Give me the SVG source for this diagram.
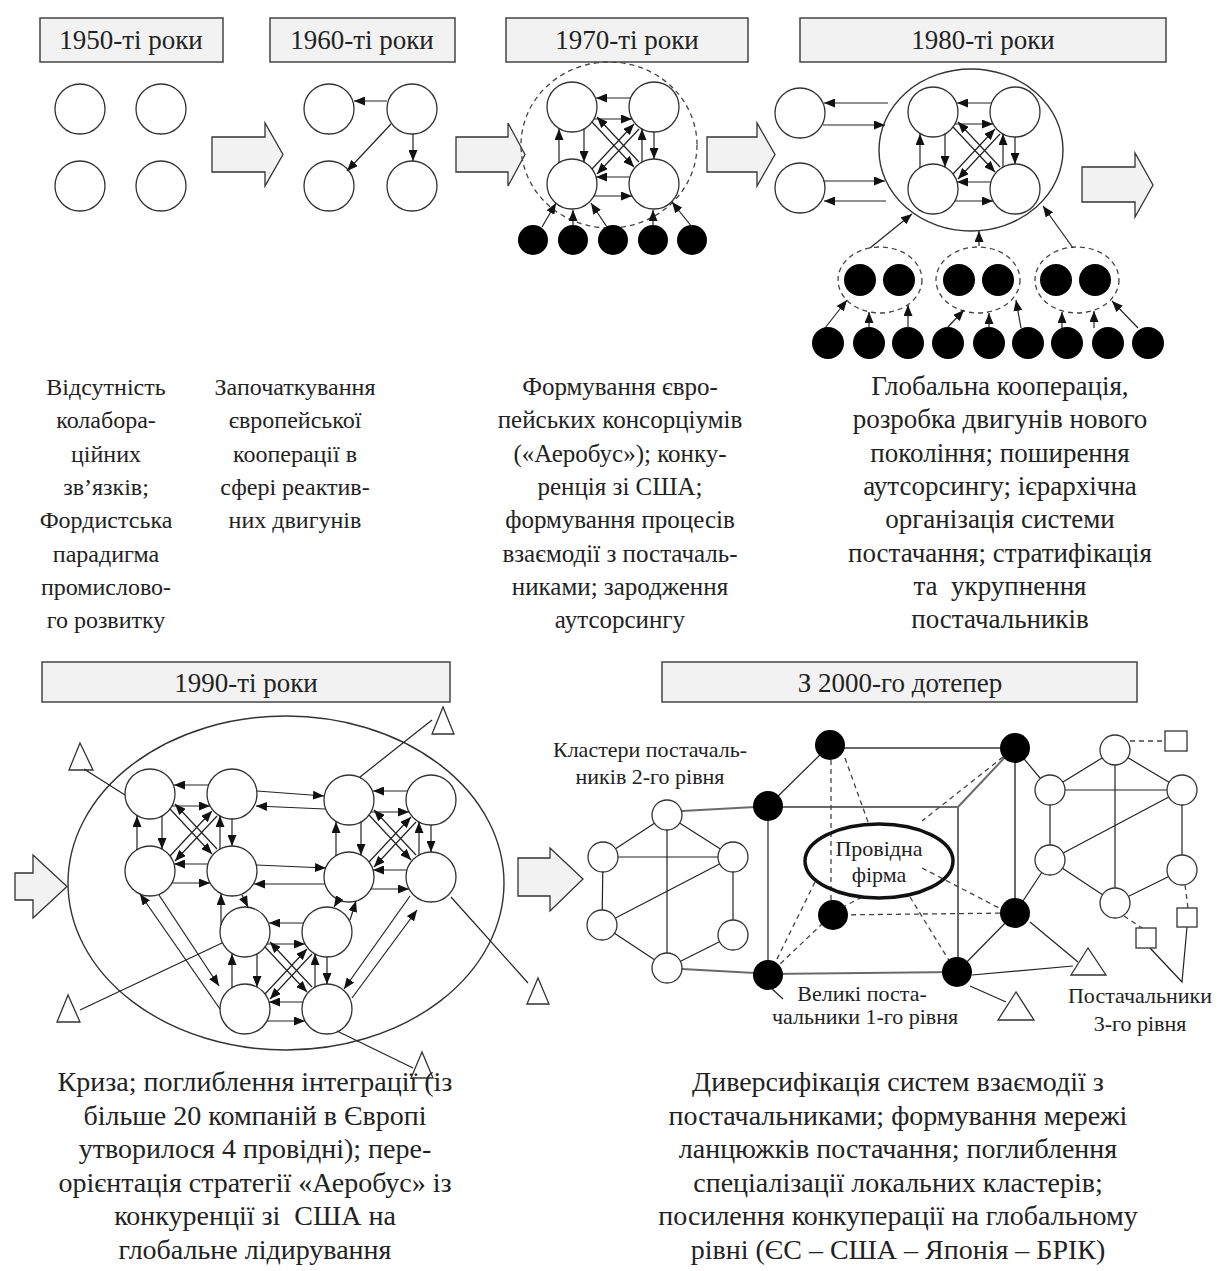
<svg xmlns="http://www.w3.org/2000/svg" xmlns:xlink="http://www.w3.org/1999/xlink" width="1221" height="1271" viewBox="0 0 1221 1271">
<style>
.n{fill:#fff;stroke:#333;stroke-width:1.3}
.b{fill:#000}
.ln{stroke:#222;stroke-width:1.2;fill:none}
.ar{marker-end:url(#ah)}
.ds{stroke:#444;stroke-dasharray:5 4;fill:none;stroke-width:1.3}
.gr{stroke:#6a6a6a;stroke-width:2;fill:none}
.box{fill:#f2f2f2;stroke:#444;stroke-width:1.5}
.blk{fill:#f2f2f2;stroke:#333;stroke-width:1.3}
.tri{fill:#fff;stroke:#333;stroke-width:1.3}
.t{font-family:"Liberation Serif","Times New Roman",serif;fill:#222;text-anchor:middle}
.tt{font-size:27px}
.bd{font-size:24px}
.bd2{font-size:25px}
.bd4{font-size:27px}
.bd3{font-size:28px}
.lb{font-size:22px}
</style>
<defs>
<marker id="ah" markerUnits="userSpaceOnUse" markerWidth="12" markerHeight="9" refX="11" refY="4.5" orient="auto"><path d="M0,0 L11,4.5 L0,9 z" fill="#111"/></marker>
<g id="mesh">
<circle class="n" cx="0" cy="0" r="25"/><circle class="n" cx="82" cy="0" r="25"/><circle class="n" cx="0" cy="77" r="25"/><circle class="n" cx="82" cy="77" r="25"/>
<path class="ln ar" d="M59,-9 L24,-9"/>
<path class="ln ar" d="M22,12 L60,12"/>
<path class="ln ar" d="M82,25 L82,52"/>
<path class="ln ar" d="M-13,56 L-13,22"/>
<path class="ln ar" d="M58,70 L24,70"/>
<path class="ln ar" d="M22,89 L60,89"/>
<path class="ln ar" d="M12,22 L12,55"/>
<path class="ln ar" d="M70,55 L70,22"/>
<path class="ln ar" d="M20,15 L62,60"/>
<path class="ln ar" d="M67,55 L25,10"/>
<path class="ln ar" d="M20,62 L62,17"/>
<path class="ln ar" d="M67,22 L25,67"/>
</g>
</defs>
<rect width="1221" height="1271" fill="#fff"/>

<!-- title boxes -->
<g id="title-1950"><rect class="box" x="40" y="18" width="183" height="44"/><text class="t tt" x="131" y="49">1950-ті роки</text></g>
<g id="title-1960"><rect class="box" x="270" y="18" width="185" height="44"/><text class="t tt" x="362" y="49">1960-ті роки</text></g>
<g id="title-1970"><rect class="box" x="506" y="18" width="242" height="44"/><text class="t tt" x="627" y="49">1970-ті роки</text></g>
<g id="title-1980"><rect class="box" x="800" y="18" width="366" height="44"/><text class="t tt" x="983" y="49">1980-ті роки</text></g>
<g id="title-1990"><rect class="box" x="42" y="662" width="408" height="40"/><text class="t tt" x="246" y="692">1990-ті роки</text></g>
<g id="title-2000"><rect class="box" x="662" y="662" width="475" height="40"/><text class="t tt" x="900" y="692">З 2000-го дотепер</text></g>

<!-- block arrows -->
<g id="block-arrows">
<polygon class="blk" points="212,137 265,137 265,123 283,154.5 265,186 265,172 212,172"/>
<polygon class="blk" points="456,137 508,137 508,123 525,154.5 508,186 508,172 456,172"/>
<polygon class="blk" points="707,137 757,137 757,123 775,154.5 757,186 757,172 707,172"/>
<polygon class="blk" points="1082,167 1135,167 1135,153 1153,185 1135,217 1135,202 1082,202"/>
<polygon class="blk" points="15,873 33,873 33,855 67,886.5 33,918 33,900 15,900"/>
<polygon class="blk" points="518,858 550,858 550,848 583,879 550,911 550,896 518,896"/>
</g>

<!-- 1950s -->
<g id="n1950">
<circle class="n" cx="80" cy="109" r="25"/><circle class="n" cx="161" cy="109" r="25"/>
<circle class="n" cx="80" cy="186" r="25"/><circle class="n" cx="161" cy="186" r="25"/>
</g>

<!-- 1960s -->
<g id="n1960">
<circle class="n" cx="329" cy="109" r="25"/><circle class="n" cx="412" cy="109" r="25"/>
<circle class="n" cx="329" cy="186" r="25"/><circle class="n" cx="412" cy="186" r="25"/>
</g>
<g id="c1960">
<path class="ln ar" d="M387,101 L354,101"/>
<path class="ln ar" d="M391,124 L347,171"/>
<path class="ln ar" d="M413,134 L413,161"/>
</g>

<!-- 1970s -->
<g id="n1970">
<ellipse class="ds" cx="609" cy="145" rx="88" ry="83"/>
<use xlink:href="#mesh" href="#mesh" x="572" y="107"/>
<circle class="b" cx="533" cy="240" r="15"/><circle class="b" cx="573" cy="240" r="15"/><circle class="b" cx="613" cy="240" r="15"/><circle class="b" cx="653" cy="240" r="15"/><circle class="b" cx="692" cy="240" r="15"/>
</g>
<g id="c1970">
<path class="ln ar" d="M542,227 L556,203"/>
<path class="ln ar" d="M573,226 L573,210"/>
<path class="ln ar" d="M607,227 L591,203"/>
<path class="ln ar" d="M653,226 L653,210"/>
<path class="ln ar" d="M692,227 L672,202"/>
</g>

<!-- 1980s -->
<g id="n1980">
<ellipse cx="971" cy="150" rx="92" ry="81" fill="none" stroke="#333" stroke-width="1.4"/>
<use xlink:href="#mesh" href="#mesh" x="933" y="112"/>
<circle class="n" cx="800" cy="113" r="25"/><circle class="n" cx="800" cy="188" r="25"/>
<ellipse class="ds" cx="880" cy="280" rx="42" ry="33"/>
<ellipse class="ds" cx="978" cy="280" rx="42" ry="33"/>
<ellipse class="ds" cx="1077" cy="280" rx="42" ry="33"/>
<circle class="b" cx="860" cy="280" r="16"/><circle class="b" cx="899" cy="280" r="16"/>
<circle class="b" cx="959" cy="280" r="16"/><circle class="b" cx="998" cy="280" r="16"/>
<circle class="b" cx="1056" cy="280" r="16"/><circle class="b" cx="1095" cy="280" r="16"/>
<circle class="b" cx="828" cy="343" r="16"/><circle class="b" cx="869" cy="343" r="16"/><circle class="b" cx="908" cy="343" r="16"/>
<circle class="b" cx="948" cy="343" r="16"/><circle class="b" cx="989" cy="343" r="16"/><circle class="b" cx="1028" cy="343" r="16"/>
<circle class="b" cx="1067" cy="343" r="16"/><circle class="b" cx="1108" cy="343" r="16"/><circle class="b" cx="1148" cy="343" r="16"/>
</g>
<g id="c1980">
<path class="ln ar" d="M888,103 L824,103"/>
<path class="ln ar" d="M823,125 L885,125"/>
<path class="ln ar" d="M823,181 L885,181"/>
<path class="ln ar" d="M886,201 L824,201"/>
<path class="ln ar" d="M870,248 L912,214"/>
<path class="ln ar" d="M979,246 L979,231"/>
<path class="ln ar" d="M1073,248 L1043,206"/>
<path class="ln ar" d="M825,328 L847,300"/>
<path class="ln ar" d="M869,328 L869,312"/>
<path class="ln ar" d="M908,328 L908,305"/>
<path class="ln ar" d="M947,328 L964,310"/>
<path class="ln ar" d="M989,328 L989,313"/>
<path class="ln ar" d="M1021,328 L1016,300"/>
<path class="ln ar" d="M1062,328 L1062,312"/>
<path class="ln ar" d="M1094,328 L1094,311"/>
<path class="ln ar" d="M1138,328 L1112,301"/>
</g>

<!-- top descriptions -->
<g id="desc-1950"><text class="t bd" x="106" y="395"><tspan x="106" dy="0">Відсутність</tspan><tspan x="106" dy="33.3">колабора-</tspan><tspan x="106" dy="33.3">ційних</tspan><tspan x="106" dy="33.3">зв’язків;</tspan><tspan x="106" dy="33.3">Фордистська</tspan><tspan x="106" dy="33.3">парадигма</tspan><tspan x="106" dy="33.3">промислово-</tspan><tspan x="106" dy="33.3">го розвитку</tspan></text></g>
<g id="desc-1960"><text class="t bd" x="295" y="395"><tspan x="295" dy="0">Започаткування</tspan><tspan x="295" dy="33.3">європейської</tspan><tspan x="295" dy="33.3">кооперації в</tspan><tspan x="295" dy="33.3">сфері реактив-</tspan><tspan x="295" dy="33.3">них двигунів</tspan></text></g>
<g id="desc-1970"><text class="t bd2" x="620" y="395"><tspan x="620" dy="0">Формування євро-</tspan><tspan x="620" dy="33.3">пейських консорціумів</tspan><tspan x="620" dy="33.3">(«Аеробус»); конку-</tspan><tspan x="620" dy="33.3">ренція зі США;</tspan><tspan x="620" dy="33.3">формування процесів</tspan><tspan x="620" dy="33.3">взаємодії з постачаль-</tspan><tspan x="620" dy="33.3">никами; зародження</tspan><tspan x="620" dy="33.3">аутсорсингу</tspan></text></g>
<g id="desc-1980"><text class="t bd4" x="1000" y="395" style="white-space:pre"><tspan x="1000" dy="0">Глобальна кооперація,</tspan><tspan x="1000" dy="33.3">розробка двигунів нового</tspan><tspan x="1000" dy="33.3">покоління; поширення</tspan><tspan x="1000" dy="33.3">аутсорсингу; ієрархічна</tspan><tspan x="1000" dy="33.3">організація системи</tspan><tspan x="1000" dy="33.3">постачання; стратифікація</tspan><tspan x="1000" dy="33.3">та  укрупнення</tspan><tspan x="1000" dy="33.3">постачальників</tspan></text></g>

<!-- 1990s -->
<g id="n1990">
<ellipse cx="286" cy="883" rx="218" ry="167" fill="none" stroke="#333" stroke-width="1.4"/>
<use xlink:href="#mesh" href="#mesh" x="150" y="794"/>
<use xlink:href="#mesh" href="#mesh" x="349" y="800"/>
<use xlink:href="#mesh" href="#mesh" x="245" y="932"/>
<polygon class="tri" points="80,743 69,770 93,770"/>
<polygon class="tri" points="68,995 57,1022 80,1022"/>
<polygon class="tri" points="443,707 432,734 454,734"/>
<polygon class="tri" points="538,978 527,1004 549,1004"/>
<polygon class="tri" points="422,1052 411,1078 433,1078"/>
</g>
<g id="c1990">
<path class="ln ar" d="M257,791 L324,796"/>
<path class="ln ar" d="M325,809 L256,806"/>
<path class="ln ar" d="M256,865 L326,868"/>
<path class="ln ar" d="M325,884 L254,884"/>
<path class="ln ar" d="M221,925 L221,894"/>
<path class="ln ar" d="M242,895 L248,907"/>
<path class="ln ar" d="M339,899 L334,907"/>
<path class="ln ar" d="M350,920 L356,901"/>
<path class="ln ar" d="M220,1009 L140,894"/>
<path class="ln ar" d="M159,895 L219,986"/>
<path class="ln ar" d="M410,896 L344,989"/>
<path class="ln ar" d="M352,998 L417,910"/>
<path class="ln" d="M84,769 L125,795"/>
<path class="ln" d="M80,1010 L222,943"/>
<path class="ln" d="M432,720 L360,777"/>
<path class="ln" d="M528,983 L451,897"/>
<path class="ln" d="M413,1068 L337,1031"/>
</g>

<!-- 2000s -->
<g id="c2000">
<path class="gr" d="M830,748 L1015,748"/>
<path class="gr" d="M768,807 L958,807 L958,972"/>
<path class="gr" d="M768,974 L957,972"/>
<path class="gr" d="M958,807 L1008,754"/>
<path class="gr" d="M1015,748 L1015,913"/>
<path class="gr" d="M682,811 L755,807"/>
<path class="gr" d="M682,969 L755,973"/>
<path class="ln" d="M830,745 L768,806"/>
<path class="ln" d="M768,806 L768,975"/>
<path class="ln" d="M1015,913 L957,972"/>
<path class="ln" d="M1015,748 L1050,790"/>
<path class="ln" d="M1015,913 L1050,860"/>
<path class="ln" d="M1030,922 L1078,962"/>
<path class="ln" d="M972,975 L1073,966"/>
<path class="ln" d="M970,986 L1006,1002"/>
<path class="ln" d="M770,987 L783,999"/>
<path class="ds" d="M831,760 L831,915"/>
<path class="ds" d="M833,915 L1015,913"/>
<path class="ds" d="M823,923 L778,966"/>
<path class="ds" d="M845,758 L868,822"/>
<path class="ds" d="M1003,757 L922,821"/>
<path class="ds" d="M815,882 L775,963"/>
<path class="ds" d="M862,897 L845,906"/>
<path class="ds" d="M910,897 L950,962"/>
<path class="ds" d="M922,868 L1001,909"/>
<path class="ln" d="M667,815 L603,857 M667,815 L733,857 M667,815 L667,968 M603,857 L733,857 M603,857 L602,925 M733,857 L602,925 M733,857 L733,935 M602,925 L667,968 M733,935 L667,968"/>
<path class="ln" d="M1115,750 L1050,790 M1115,750 L1182,790 M1115,750 L1115,903 M1050,790 L1182,790 M1050,790 L1050,860 M1050,860 L1182,790 M1182,790 L1182,870 M1050,860 L1115,903 M1182,870 L1115,903"/>
<path class="ds" d="M1130,741 L1165,741"/>
<path class="ds" d="M1185,885 L1188,908"/>
<path class="ds" d="M1124,916 L1142,928"/>
<path class="ln" d="M1150,948 L1182,982 L1187,927"/>
</g>
<g id="n2000">
<g id="lead-firm"><ellipse cx="879" cy="861" rx="74" ry="37" fill="none" stroke="#111" stroke-width="3.5"/><text class="t lb" x="879" y="856">Провідна</text><text class="t lb" x="879" y="882">фірма</text></g>
<g id="tier1">
<circle class="b" cx="830" cy="745" r="15"/><circle class="b" cx="1015" cy="748" r="15"/>
<circle class="b" cx="768" cy="806" r="15"/><circle class="b" cx="833" cy="915" r="15"/>
<circle class="b" cx="1015" cy="913" r="15"/><circle class="b" cx="768" cy="975" r="15"/>
<circle class="b" cx="957" cy="972" r="15"/>
</g>
<g id="cluster-left">
<circle class="n" cx="667" cy="815" r="15"/><circle class="n" cx="603" cy="857" r="15"/><circle class="n" cx="733" cy="857" r="15"/>
<circle class="n" cx="602" cy="925" r="15"/><circle class="n" cx="733" cy="935" r="15"/><circle class="n" cx="667" cy="968" r="15"/>
</g>
<g id="cluster-right">
<circle class="n" cx="1115" cy="750" r="15"/><circle class="n" cx="1050" cy="790" r="15"/><circle class="n" cx="1182" cy="790" r="15"/>
<circle class="n" cx="1050" cy="860" r="15"/><circle class="n" cx="1182" cy="870" r="15"/><circle class="n" cx="1115" cy="903" r="15"/>
</g>
<g id="tier3">
<rect class="tri" x="1165" y="731" width="22" height="20"/>
<rect class="tri" x="1177" y="908" width="20" height="19"/>
<rect class="tri" x="1136" y="928" width="20" height="20"/>
</g>
<g id="outer2000">
<polygon class="tri" points="1088,948 1071,975 1106,975"/>
<polygon class="tri" points="1016,992 998,1020 1034,1020"/>
</g>
<text class="t lb" x="650" y="757">Кластери постачаль-</text>
<text class="t lb" x="650" y="784">ників 2-го рівня</text>
<text class="t lb" x="862" y="1001">Великі поста-</text>
<text class="t lb" x="865" y="1024">чальники 1-го рівня</text>
<text class="t lb" x="1140" y="1003">Постачальники</text>
<text class="t lb" x="1140" y="1031">3-го рівня</text>
</g>

<!-- bottom descriptions -->
<g id="desc-1990"><text class="t bd3" x="255" y="1091" style="white-space:pre"><tspan x="255" dy="0">Криза; поглиблення інтеграції (із</tspan><tspan x="255" dy="33.6">більше 20 компаній в Європі</tspan><tspan x="255" dy="33.6">утворилося 4 провідні); пере-</tspan><tspan x="255" dy="33.6">орієнтація стратегії «Аеробус» із</tspan><tspan x="255" dy="33.6">конкуренції зі  США на</tspan><tspan x="255" dy="33.6">глобальне лідирування</tspan></text></g>
<g id="desc-2000"><text class="t bd3" x="898" y="1091"><tspan x="898" dy="0">Диверсифікація систем взаємодії з</tspan><tspan x="898" dy="33.6">постачальниками; формування мережі</tspan><tspan x="898" dy="33.6">ланцюжків постачання; поглиблення</tspan><tspan x="898" dy="33.6">спеціалізації локальних кластерів;</tspan><tspan x="898" dy="33.6">посилення конкуперації на глобальному</tspan><tspan x="898" dy="33.6">рівні (ЄС – США – Японія – БРІК)</tspan></text></g>
</svg>
